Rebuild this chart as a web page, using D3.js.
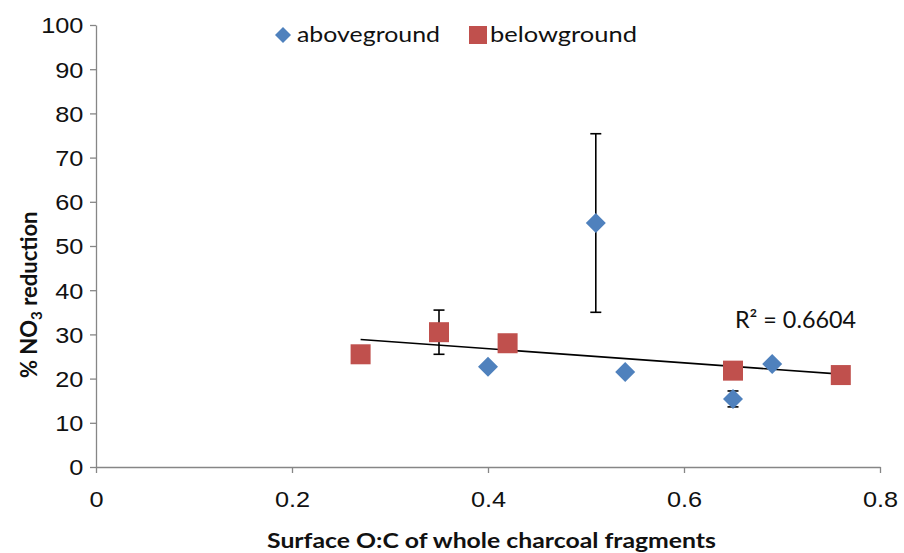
<!DOCTYPE html>
<html><head><meta charset="utf-8">
<script src="https://cdn.jsdelivr.net/npm/d3@7"></script>
<style>body{margin:0;background:#fff}svg{font-family:Lato,"Open Sans",sans-serif}</style>
</head><body>
<svg id="c" width="904" height="553"></svg>
<script>
const aboveX=[0.40,0.51,0.54,0.65,0.69];
const aboveY=[22.7,55.2,21.5,15.4,23.3];
const aboveErr=[0,20.2,0,1.8,0];
const belowX=[0.27,0.35,0.42,0.65,0.76];
const belowY=[25.5,30.5,28.0,21.8,20.8];
const belowErr=[0,5.0,0,0,0];
const xTicks=[0,0.2,0.4,0.6,0.8];
const yTicks=[0,10,20,30,40,50,60,70,80,90,100];
const seriesNames=["aboveground","belowground"];
const r2Label="R² = 0.6604";

const svg=d3.select("#c");
const x=d3.scaleLinear().domain([0,0.8]).range([96,880]);
const y=d3.scaleLinear().domain([0,100]).range([467,25]);
const axisColor="#868686";

const xa=svg.append("g").attr("transform","translate(0,467)").call(d3.axisBottom(x).tickValues(xTicks).tickFormat(d=>d===0?"0":d3.format(".1f")(d)).tickSizeInner(6).tickSizeOuter(0).tickPadding(18));
const ya=svg.append("g").attr("transform","translate(96,0)").call(d3.axisLeft(y).tickValues(yTicks).tickSizeInner(6).tickSizeOuter(0).tickPadding(5));
[xa,ya].forEach(a=>{a.selectAll("path,line").attr("stroke",axisColor).attr("stroke-width",1.3);
 a.selectAll("text").attr("fill","#111").style("font-size","22px").attr("transform","scale(1.15,1)");});
ya.selectAll("text").attr("dy","0.36em");

// trendline (linear regression of belowground)
const mx=d3.mean(belowX), my=d3.mean(belowY);
const sxy=d3.sum(belowX.map((v,i)=>(v-mx)*(belowY[i]-my)));
const sxx=d3.sum(belowX.map(v=>(v-mx)**2));
const slope=sxy/sxx, icpt=my-slope*mx;
const x0=d3.min(belowX), x1=d3.max(belowX);
svg.append("line").attr("x1",x(x0)).attr("y1",y(icpt+slope*x0)).attr("x2",x(x1)).attr("y2",y(icpt+slope*x1)).attr("stroke","#000").attr("stroke-width",1.6);

function errBars(xs,ys,es){
 xs.forEach((v,i)=>{ if(!es[i]) return;
  const g=svg.append("g").attr("stroke","#000").attr("stroke-width",1.6);
  g.append("line").attr("x1",x(v)).attr("x2",x(v)).attr("y1",y(ys[i]-es[i])).attr("y2",y(ys[i]+es[i]));
  [ys[i]-es[i],ys[i]+es[i]].forEach(t=>g.append("line").attr("x1",x(v)-5.5).attr("x2",x(v)+5.5).attr("y1",y(t)).attr("y2",y(t)));
 });
}
errBars(aboveX,aboveY,aboveErr);
errBars(belowX,belowY,belowErr);

const blue="#4F81BD", red="#C0504D";
const diamond="M0,-10L10,0L0,10L-10,0Z";
svg.append("g").selectAll("path").data(aboveX).join("path")
 .attr("d",diamond).attr("transform",(d,i)=>`translate(${x(d)},${y(aboveY[i])})`).attr("fill",blue);
svg.append("g").selectAll("rect").data(belowX).join("rect")
 .attr("x",d=>x(d)-10).attr("y",(d,i)=>y(belowY[i])-10).attr("width",20).attr("height",20).attr("fill",red);

// R2 label
svg.append("text").attr("x",735).attr("y",328).style("font-size","23px").attr("fill","#111")
 .attr("textLength",121).attr("lengthAdjust","spacingAndGlyphs").text(r2Label);

// legend
svg.append("path").attr("d","M0,-8L8,0L0,8L-8,0Z").attr("transform","translate(283,35)").attr("fill",blue);
svg.append("text").attr("x",297).attr("y",42).style("font-size","22px").attr("fill","#111")
 .attr("textLength",143).attr("lengthAdjust","spacingAndGlyphs").text(seriesNames[0]);
svg.append("rect").attr("x",469).attr("y",26).attr("width",18).attr("height",18).attr("fill",red);
svg.append("text").attr("x",490).attr("y",42).style("font-size","22px").attr("fill","#111")
 .attr("textLength",147).attr("lengthAdjust","spacingAndGlyphs").text(seriesNames[1]);

// axis titles
svg.append("text").attr("x",267).attr("y",548).style("font-size","21px").style("font-weight","bold").attr("fill","#111")
 .attr("textLength",449).attr("lengthAdjust","spacingAndGlyphs").text("Surface O:C of whole charcoal fragments");
const yt=svg.append("text").attr("transform","translate(37,378) rotate(-90)").style("font-size","22px").style("font-weight","bold").attr("fill","#111");
yt.append("tspan").text("% NO");
yt.append("tspan").attr("dy",5).style("font-size","15px").text("3");
yt.append("tspan").attr("dy",-5).text(" reduction");
</script>
</body></html>
